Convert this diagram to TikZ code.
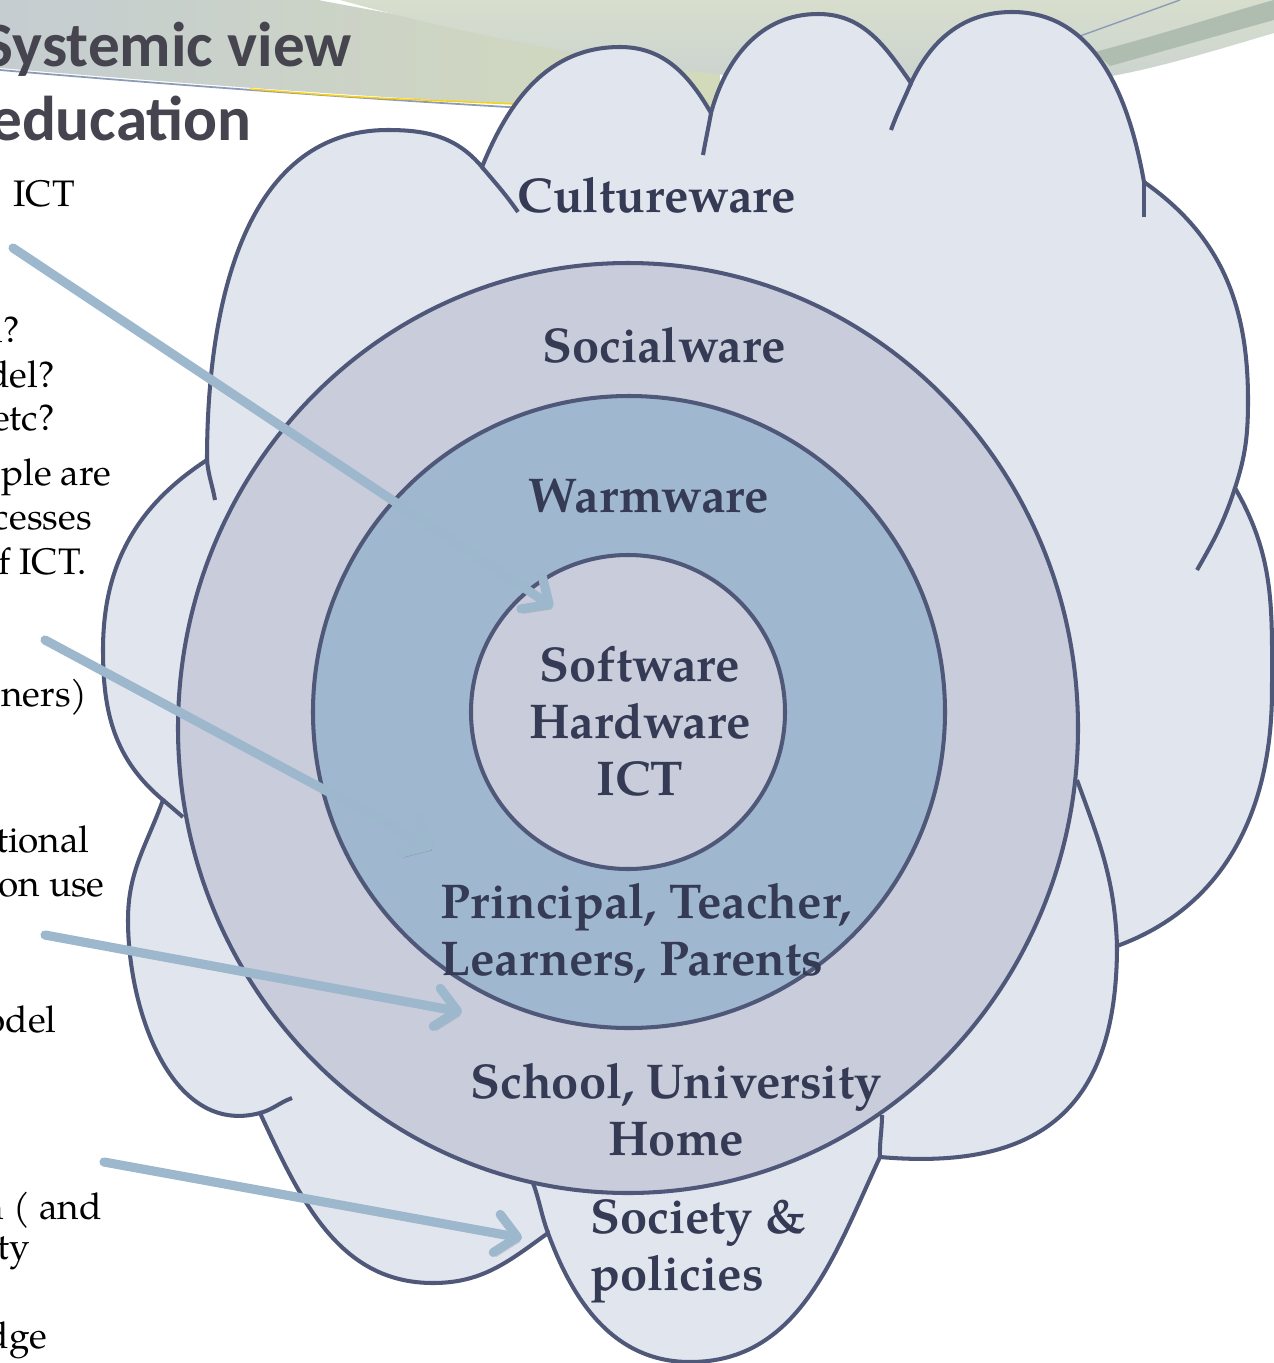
\documentclass[tikz,border=0pt]{standalone}
\usepackage{fontspec}
\setmainfont{TeX Gyre Pagella}
\newfontfamily\titlefont{Carlito}
\usetikzlibrary{arrows.meta}

\definecolor{cloudfill}{HTML}{E1E5EE}
\definecolor{ringfill}{HTML}{C8CCDB}
\definecolor{warmfill}{HTML}{A0B8CF}
\definecolor{outline}{HTML}{4F5878}
\definecolor{labeltext}{HTML}{363B55}
\definecolor{arrowblue}{HTML}{9DB7CD}
\definecolor{titlegray}{HTML}{46454F}
\definecolor{swooshgreen}{HTML}{D7DECD}
\definecolor{swooshblue}{HTML}{C5CDD1}
\definecolor{swoosholive}{HTML}{D3DABB}
\definecolor{swooshdark}{HTML}{AFBDB0}
\definecolor{swooshline}{HTML}{8C9CB8}

\begin{document}
\begin{tikzpicture}[x=0.02cm, y=0.02cm,
  cloudline/.style={draw=outline, line width=2.3pt},
  ware/.style={font=\bfseries\fontsize{27.8}{32.3}\selectfont, text=labeltext, inner sep=0pt, anchor=base},
  note/.style={font=\fontsize{21}{25}\selectfont, inner sep=0pt, anchor=base east},
  headline/.style={font=\titlefont\bfseries\fontsize{36}{42}\selectfont, text=titlegray, inner sep=0pt, anchor=base east},
  pointer/.style={draw=arrowblue, line width=5.2pt, line cap=round,
    -{Straight Barb[length=12pt, width=22pt, round]},
    preaction={draw=black, opacity=0.13, transform canvas={shift={(1.5pt,-2.5pt)}}}}]
    \useasboundingbox (0,0) rectangle (1274,-1363);
    \clip (0,0) rectangle (1274,-1363);
    \fill[white] (0,0) rectangle (1274,-1363);

    % swooshes behind the title
    \shade[left color=swooshblue, right color=swoosholive]
      (0,0) -- (318,0) .. controls (450,-25) and (600,-50) .. (720,-70)
      -- (720,-112) .. controls (500,-108) and (200,-85) .. (0,-68) -- cycle;
    \shade[top color=swooshgreen, bottom color=swooshblue!80!swooshgreen]
      (340,0) -- (1274,0) -- (1274,-33) .. controls (1200,-55) and (1150,-70) .. (1100,-78)
      .. controls (950,-100) and (800,-85) .. (700,-72) .. controls (550,-52) and (430,-25) .. (340,0) -- cycle;
    \fill[swooshdark] (1095,-52) .. controls (1170,-32) and (1230,-12) .. (1274,0)
      -- (1274,-20) .. controls (1220,-35) and (1160,-52) .. (1110,-66) -- cycle;
    \draw[swooshline, line width=1pt] (0,-70) .. controls (150,-83) and (350,-98) .. (525,-108);
    \draw[yellow!70!orange, line width=0.8pt] (250,-89) .. controls (350,-97) .. (515,-104);
    \draw[swooshline, line width=0.8pt] (1080,-36) -- (1180,0);

    % title
    \node[headline] (title1) at (352,-66) {Systemic view};
    \node[headline] (title2) at (252,-140) {education};

    % text cut off on the left
    \node[note] (n1)  at (75,-206)   {: ICT};
    \node[note] (n2)  at (20,-342)   {l?};
    \node[note] (n3)  at (55,-387)   {del?};
    \node[note] (n4)  at (55,-430)   {etc?};
    \node[note] (n5)  at (112,-485)  {ople are};
    \node[note] (n6)  at (92,-529)   {cesses};
    \node[note] (n7)  at (87,-574)   {f ICT.};
    \node[note] (n8)  at (88,-706)   {rners)};
    \node[note] (n9)  at (90,-852)   {tional};
    \node[note] (n10) at (105,-896)  {on use};
    \node[note] (n11) at (57,-1032)  {odel};
    \node[note] (n12) at (102,-1219) {n ( and};
    \node[note] (n13) at (30,-1259)  {ty};
    \node[note] (n14) at (47,-1348)  {dge};

    % cloud junctions
    \coordinate (jA)  at (207,-460);
    \coordinate (jAB) at (482,-167);
    \coordinate (jBC) at (711,-113);
    \coordinate (jCD) at (911,-83);
    \coordinate (jDR) at (1144,-182);
    \coordinate (jRR) at (1235,-488);
    \coordinate (jRB) at (1117,-946);
    \coordinate (jRS) at (880,-1157);
    \coordinate (jSB) at (548,-1233);
    \coordinate (jBL) at (260,-1113);
    \coordinate (jLL) at (163,-800);

    % cultureware cloud
    \filldraw[cloudline, fill=cloudfill] (jA)
      to[out=90,in=180] (388,-130) to[out=0,in=130] (jAB)
      to[out=68,in=180] (620,-47) to[out=0,in=120] (jBC)
      to[out=75,in=180] (818,-14) to[out=0,in=125] (jCD)
      to[out=65,in=180] (1012,-12) to[out=0,in=100] (jDR)
      to[out=-35,in=90] (1248,-400) to[out=-90,in=72] (jRR)
      to[out=-60,in=90] (1272,-690) to[out=-90,in=20] (jRB)
      to[out=-90,in=-5,looseness=1.3] (jRS)
      to[out=-115,in=0] (690,-1362) to[out=180,in=-70] (jSB)
      to[out=-144,in=0] (433,-1283) to[out=180,in=-65] (jBL)
      to[out=195,in=-90] (128,-920) to[out=90,in=-110] (jLL)
      to[out=140,in=-90] (103,-650) to[out=90,in=-147] (jA)
      -- cycle;
    % inner ends of the bumps
    \draw[cloudline] (jA) to[out=-85,in=100] (215,-500);
    \draw[cloudline] (jLL) to[out=-40,in=140] (183,-817);
    \draw[cloudline] (jBL) to[out=15,in=200] (292,-1098);
    \draw[cloudline] (jSB) to[out=110,in=-70] (533,-1183);
    \draw[cloudline] (jRS) to[out=92,in=-90] (882,-1115);
    \draw[cloudline] (jRB) to[out=92,in=-70] (1077,-780);
    \draw[cloudline] (jRR) to[out=-108,in=60] (1197,-570);
    \draw[cloudline] (jDR) -- (1144,-217);
    \draw[cloudline] (jCD) to[out=-113,in=70] (891,-130);
    \draw[cloudline] (jBC) to[out=-100,in=80] (703,-155);
    \draw[cloudline] (jAB) to[out=-50,in=125] (518,-212);

    % rings
    \filldraw[cloudline, fill=ringfill] (628,-728) ellipse [x radius=450, y radius=465];
    \filldraw[cloudline, fill=warmfill] (629,-712) circle [radius=316];
    \filldraw[cloudline, fill=ringfill] (628,-712) circle [radius=157];

    % labels (base of a multi-line node is its last line)
    \node[ware] (culture) at (657,-212) {Cultureware};
    \node[ware] (social)  at (664,-362) {Socialware};
    \node[ware] (warm)    at (649,-512) {Warmware};
    \node[ware, align=center] (core) at (640,-795) {Software\\Hardware\\ICT};
    \node[ware, align=left, anchor=base west] (people) at (440,-975) {Principal, Teacher,\\Learners, Parents};
    \node[ware, align=center] (school) at (676,-1155) {School, University\\Home};
    \node[ware, align=left, anchor=base west] (society) at (590,-1290) {Society \&\\policies};

    % arrows from the text
    \coordinate (p1) at (13,-248);   \coordinate (t1) at (553,-607);
    \coordinate (p2) at (45,-640);   \coordinate (t2) at (433,-848);
    \coordinate (p3) at (45,-935);   \coordinate (t3) at (462,-1012);
    \coordinate (p4) at (104,-1162); \coordinate (t4) at (522,-1238);
    \draw[pointer] (p1) -- (t1);
    \draw[pointer] (p2) -- (t2);
    \draw[pointer] (p3) -- (t3);
    \draw[pointer] (p4) -- (t4);
\end{tikzpicture}
\end{document}
